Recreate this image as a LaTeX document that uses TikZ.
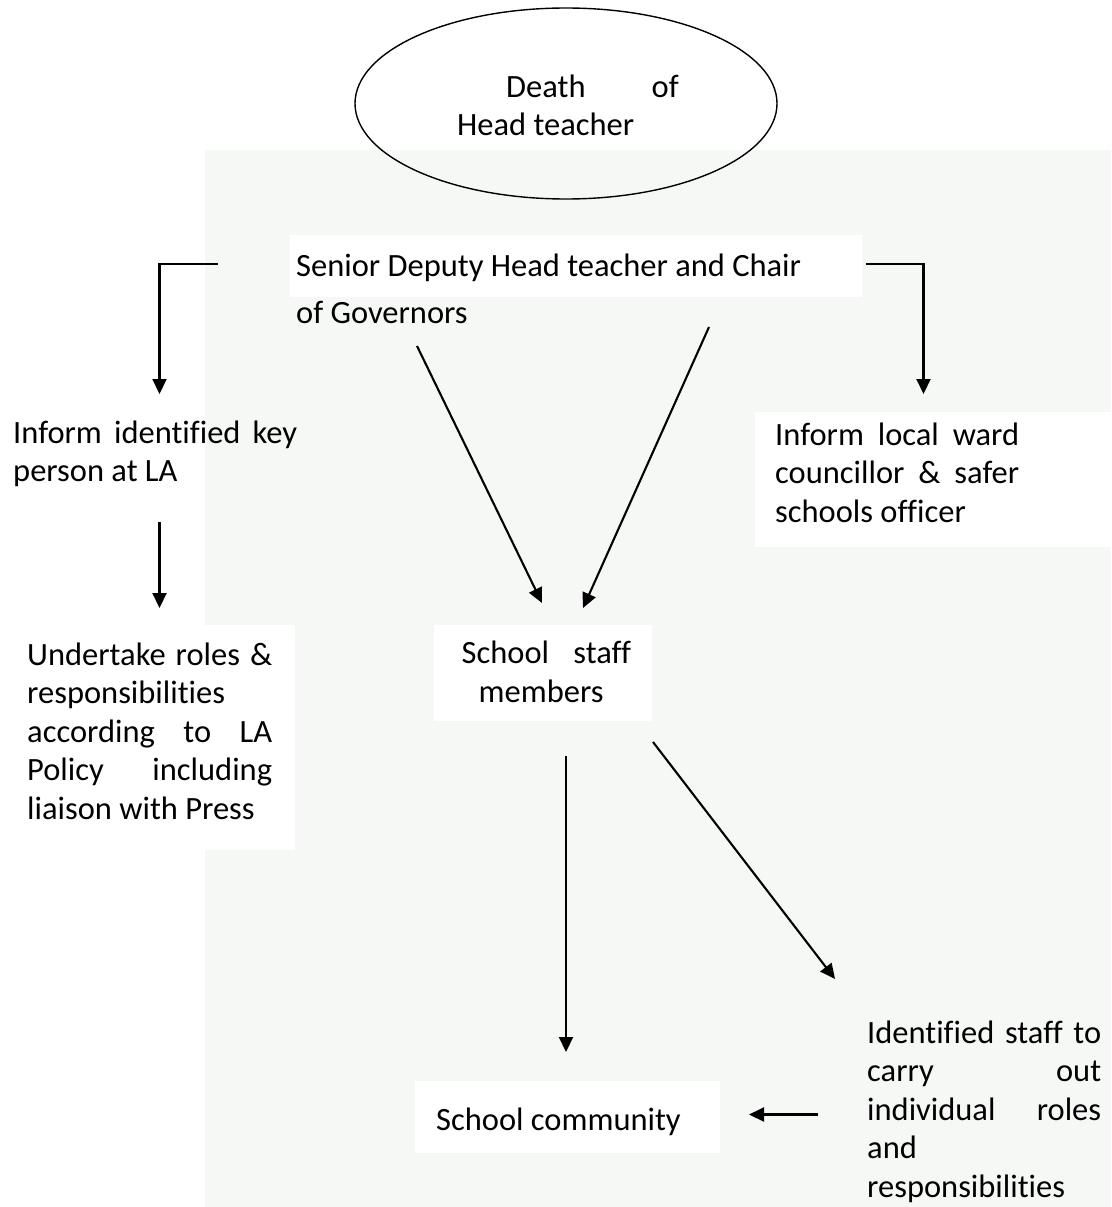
\documentclass[tikz,border=0pt]{standalone}
\usepackage{fontspec}
\setmainfont{Carlito}[Ligatures=NoCommon]
\usetikzlibrary{arrows.meta,shapes.geometric}
\definecolor{wmark}{RGB}{246,248,246}
\newcommand{\jl}[2]{\makebox[#1][s]{#2}}
\tikzset{
  txt/.style={anchor=base west, inner sep=0pt, font=\fontsize{32.5}{38.5}\selectfont},
  arr/.style={line width=2.1pt, -{Triangle[length=15pt,width=14pt]}},
  wbox/.style={fill=white, draw=none}
}
\begin{document}
\begin{tikzpicture}[x=1pt,y=-1pt]
\useasboundingbox (0,0) rectangle (1111,1207);
\fill[white] (0,0) rectangle (1111,1207);
\fill[wmark] (205,150) rectangle (1111,1207);
% white text backgrounds
\fill[wbox] (290,235) rectangle (862,297);
\fill[wbox] (755,412) rectangle (1111,547);
\fill[wbox] (0,625) rectangle (295,850);
\fill[wbox] (434,625) rectangle (652,721);
\fill[wbox] (415,1081) rectangle (720,1153);

% ellipse
\node[draw, ellipse, line width=1.4pt, minimum width=422pt, minimum height=191pt, inner sep=0pt] (ell) at (566,103.5) {};
\node[txt] (death) at (457,97) {\parbox[t]{221.5pt}{\hspace*{49pt}Death\hfill of\\Head teacher}};

\node[txt] (senior) at (296,276) {\parbox[t]{530pt}{\setlength\baselineskip{47pt}Senior Deputy Head teacher and Chair\\of Governors}};

\node[txt] (informLA) at (13,443) {\parbox[t]{284pt}{\jl{284pt}{Inform identified key}\\person at LA}};

\node[txt] (undertake) at (27,665) {\parbox[t]{245pt}{\jl{245pt}{Undertake roles \&}\\responsibilities\\\jl{245pt}{according to LA}\\\jl{245pt}{Policy including}\\liaison with Press}};

\node[txt] (informward) at (775,445) {\parbox[t]{244pt}{\jl{244pt}{Inform local ward}\\\jl{244pt}{councillor \& safer}\\schools officer}};

\node[txt] (staff) at (461.5,663.5) {\parbox[t]{169.5pt}{\jl{169.5pt}{School staff}\\\hspace*{17pt}members}};

\node[txt] (community) at (436,1130) {School community};

\node[txt] (identified) at (867,1043) {\parbox[t]{234pt}{\jl{234pt}{Identified staff to}\\\jl{234pt}{carry out}\\\jl{234pt}{individual roles}\\and\\responsibilities}};

% connector end points
\coordinate (sL) at (218,264);
\coordinate (tL) at (159.5,394);
\coordinate (sR) at (866,264);
\coordinate (tR) at (923.5,394);
\coordinate (d1s) at (417,346);
\coordinate (d1t) at (542,603);
\coordinate (d2s) at (709,327);
\coordinate (d2t) at (583,608);
\coordinate (lds) at (159.5,522);
\coordinate (ldt) at (159.5,608);
\coordinate (cds) at (566,756);
\coordinate (cdt) at (566,1052);
\coordinate (rds) at (653,742);
\coordinate (rdt) at (835,979);
\coordinate (hs) at (818,1114.5);
\coordinate (ht) at (749,1114.5);

\draw[arr] (sL) -| (tL);
\draw[arr] (sR) -| (tR);
\draw[arr] (d1s) -- (d1t);
\draw[arr] (d2s) -- (d2t);
\draw[arr] (lds) -- (ldt);
\draw[arr] (cds) -- (cdt);
\draw[arr] (rds) -- (rdt);
\draw[arr] (hs) -- (ht);
\end{tikzpicture}
\end{document}
